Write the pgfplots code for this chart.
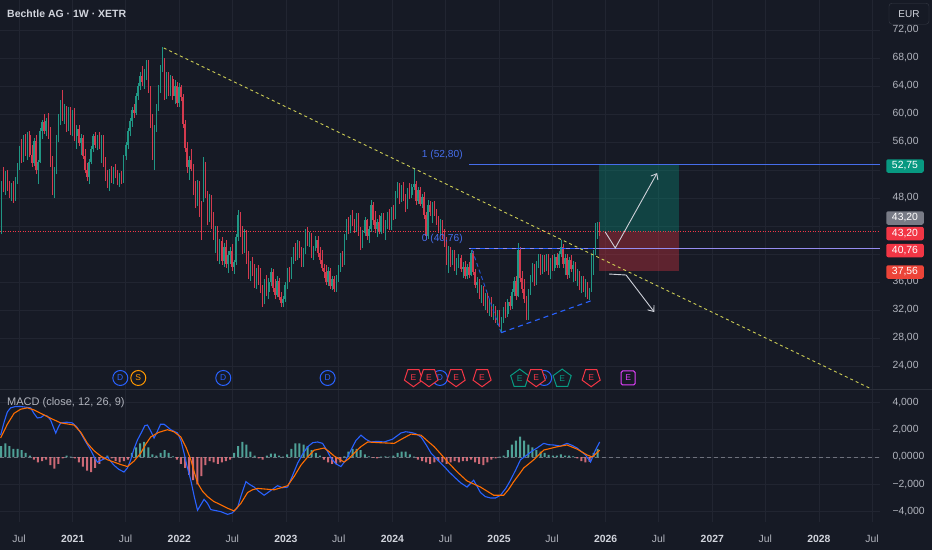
\documentclass[border=0pt]{standalone}
\usepackage{fontspec}
\setmainfont{Liberation Sans}
\usepackage{pgfplots}
\usepackage{pgfplotstable}
\pgfplotsset{compat=1.18}
\usetikzlibrary{shapes.geometric, arrows.meta}

\definecolor{bg}{RGB}{22,26,37}
\definecolor{gridc}{RGB}{33,37,49}
\definecolor{txt}{RGB}{178,181,190}
\definecolor{txtb}{RGB}{209,212,220}
\definecolor{upc}{RGB}{32,150,132}
\definecolor{dnc}{RGB}{212,58,78}
\definecolor{tvgreen}{RGB}{8,153,129}
\definecolor{tvred}{RGB}{242,54,69}
\definecolor{tvblue}{RGB}{41,98,255}
\definecolor{fibblue}{RGB}{70,110,235}
\definecolor{lav}{RGB}{150,140,240}
\definecolor{tvorange}{RGB}{255,109,0}
\definecolor{sorange}{RGB}{255,152,0}
\definecolor{ylw}{RGB}{205,205,85}
\definecolor{arw}{RGB}{205,208,216}
\definecolor{hpos}{RGB}{90,185,172}
\definecolor{hneg}{RGB}{236,120,132}
\definecolor{epurple}{RGB}{224,64,251}
\definecolor{zeroc}{RGB}{110,113,124}
\definecolor{sepc}{RGB}{42,46,57}
\definecolor{eurbd}{RGB}{54,58,69}
\definecolor{lblgray}{RGB}{120,123,134}
\definecolor{lblorange}{RGB}{236,68,56}

\pgfplotstableread{
w o h l c
-35 43.5 50.5 42.8 50.0
-34 50.0 52.4 48.8 49.5
-33 49.5 51.8 48.5 51.2
-32 51.2 52.0 49.0 49.4
-31 49.4 50.5 48.0 48.4
-30 48.4 50.2 47.6 49.8
-29 49.8 50.4 47.3 48.0
-28 48.0 51.0 47.6 50.6
-27 50.6 53.0 50.0 52.5
-26 52.5 55.5 52.0 55.0
-25 55.0 56.4 53.0 53.6
-24 53.6 57.0 53.2 56.5
-23 56.5 57.2 54.0 54.6
-22 54.6 57.5 53.5 57.0
-21 57.0 57.6 53.8 54.2
-20 54.2 55.6 52.4 53.0
-19 53.0 56.6 52.6 56.2
-18 56.2 57.0 51.4 52.0
-17 52.0 53.5 50.0 53.2
-16 53.2 58.0 53.0 57.6
-15 57.6 59.2 56.4 58.8
-14 58.8 60.0 57.2 57.6
-13 57.6 59.5 56.8 59.0
-12 59.0 60.2 56.5 57.0
-11 57.0 58.2 52.5 53.4
-10 53.4 54.0 48.4 49.5
-9 49.5 52.5 48.0 52.0
-8 52.0 57.0 51.5 56.5
-7 56.5 60.0 56.0 59.5
-6 59.5 62.0 58.5 61.4
-5 61.4 63.4 59.0 59.6
-4 59.6 61.5 58.6 60.8
-3 60.8 61.2 57.5 58.0
-2 58.0 61.0 57.6 60.5
-1 60.5 61.0 57.0 57.5
0 57.5 60.6 56.8 60.0
1 60.0 60.8 56.2 56.8
2 56.8 58.5 55.0 57.8
3 57.8 58.4 55.4 55.8
4 55.8 57.2 54.2 56.6
5 56.6 57.0 53.6 54.0
6 54.0 55.0 51.6 52.0
7 52.0 53.0 50.4 51.0
8 51.0 53.6 50.0 53.2
9 53.2 55.4 52.8 55.0
10 55.0 57.2 54.6 56.8
11 56.8 57.4 55.2 55.6
12 55.6 57.0 54.8 56.6
13 56.6 57.4 55.0 55.4
14 55.4 57.0 53.0 56.6
15 56.6 57.0 52.4 53.0
16 53.0 53.8 50.4 51.0
17 51.0 52.0 49.4 49.8
18 49.8 52.2 49.0 51.8
19 51.8 52.6 50.2 50.6
20 50.6 52.5 50.0 52.0
21 52.0 52.8 50.8 51.2
22 51.2 52.0 49.8 50.4
23 50.4 51.6 49.6 51.2
24 51.2 51.8 50.0 50.5
25 50.5 54.2 50.2 54.0
26 54.0 56.0 53.5 55.6
27 55.6 58.0 55.0 57.6
28 57.6 59.4 56.8 59.0
29 59.0 61.0 58.2 60.6
30 60.6 61.4 59.5 60.2
31 60.2 63.0 59.8 62.6
32 62.6 64.5 62.0 64.0
33 64.0 66.0 63.4 65.5
34 65.5 66.8 64.0 64.6
35 64.6 66.4 63.6 66.0
36 66.0 67.7 64.8 66.8
37 66.8 67.7 63.0 63.6
38 63.6 64.0 58.0 58.6
39 58.6 60.0 53.5 54.4
40 54.4 58.5 52.0 58.0
41 58.0 61.5 57.4 61.0
42 61.0 64.2 60.5 63.8
43 63.8 67.0 63.0 66.5
44 66.5 69.6 66.0 67.0
45 67.0 68.0 62.0 62.8
46 62.8 66.0 62.2 65.4
47 65.4 66.0 62.6 63.2
48 63.2 65.6 62.6 65.0
49 65.0 65.4 62.0 62.6
50 62.6 64.8 61.5 64.0
51 64.0 64.6 61.0 61.6
52 61.6 64.5 61.0 63.8
53 63.8 64.2 61.8 62.4
54 62.4 62.8 58.0 58.6
55 58.6 59.2 54.6 55.2
56 55.2 56.0 51.6 52.4
57 52.4 54.0 50.6 53.4
58 53.4 55.0 51.8 52.2
59 52.2 52.8 48.4 49.0
60 49.0 50.4 46.6 47.2
61 47.2 50.6 46.8 50.0
62 50.0 50.4 45.3 45.8
63 45.8 47.6 42.0 42.6
64 47.8 53.9 47.4 52.6
65 52.6 53.2 48.0 48.6
66 48.6 49.0 44.2 45.0
67 45.0 48.6 44.6 48.0
68 48.0 48.4 43.6 44.2
69 44.2 46.0 42.0 42.6
70 42.6 44.0 40.2 43.4
71 43.4 44.0 39.0 39.6
72 39.6 42.2 38.6 41.8
73 41.8 42.4 38.4 39.0
74 39.0 41.6 38.2 41.0
75 41.0 42.0 38.0 38.6
76 38.6 40.4 37.3 39.8
77 39.8 41.0 38.6 40.4
78 40.4 41.4 37.6 38.2
79 38.2 39.2 37.2 38.8
80 38.8 42.8 38.4 42.4
81 42.4 46.3 41.8 45.6
82 45.6 46.0 42.4 43.0
83 43.0 44.0 40.0 40.6
84 40.6 43.6 40.2 43.0
85 43.0 43.4 38.6 39.2
86 39.2 40.4 36.4 37.0
87 37.0 39.0 36.2 38.6
88 38.6 39.6 36.8 37.4
89 37.4 38.6 35.2 35.8
90 35.8 38.0 35.0 37.4
91 37.4 38.4 35.6 36.2
92 36.2 38.0 34.4 34.8
93 34.8 35.6 32.4 33.2
94 33.2 36.4 32.8 35.8
95 35.8 37.0 34.0 34.6
96 34.6 36.6 33.6 36.0
97 36.0 38.0 35.4 37.4
98 37.4 37.8 34.6 35.2
99 35.2 36.4 33.6 34.2
100 34.2 36.8 33.8 36.2
101 36.2 36.6 33.4 33.8
102 33.8 34.6 32.4 33.0
103 33.0 34.0 32.4 33.6
104 33.6 36.0 33.2 35.6
105 35.6 38.0 35.0 37.6
106 37.6 38.2 36.0 36.8
107 36.8 39.6 36.4 39.2
108 39.2 41.0 38.6 40.4
109 40.4 41.6 39.0 39.6
110 39.6 42.0 39.2 41.4
111 41.4 41.8 39.4 40.0
112 40.0 41.0 38.2 38.8
113 38.8 40.8 38.2 40.2
114 40.2 43.6 40.0 43.0
115 43.0 43.9 41.2 41.8
116 41.8 43.2 41.0 42.6
117 42.6 43.0 39.4 40.0
118 40.0 41.2 39.2 40.8
119 40.8 42.6 40.4 42.0
120 42.0 42.6 39.6 40.2
121 40.2 41.0 38.6 39.2
122 39.2 40.6 37.6 38.0
123 38.0 38.6 36.6 37.4
124 37.4 38.4 35.6 36.0
125 36.0 38.2 35.4 37.6
126 37.6 38.0 35.0 35.4
127 35.4 36.8 34.8 36.4
128 36.4 36.8 34.6 35.0
129 35.0 37.0 34.6 36.6
130 36.6 38.4 36.0 38.0
131 38.0 40.2 37.4 39.8
132 39.8 40.4 38.2 38.8
133 38.8 42.8 38.4 42.4
134 42.4 45.0 42.0 44.4
135 44.4 45.3 42.8 43.4
136 43.4 45.6 43.0 45.2
137 45.2 46.3 44.0 44.6
138 44.6 45.0 43.0 43.6
139 43.6 45.8 43.2 45.4
140 45.4 45.8 42.6 43.0
141 43.0 43.8 40.6 41.2
142 41.2 43.4 40.8 43.0
143 43.0 45.3 42.6 44.8
144 44.8 45.0 42.0 42.6
145 42.6 44.0 41.6 43.6
146 43.6 47.7 43.2 47.0
147 47.0 47.4 44.2 44.8
148 44.8 46.2 43.0 43.6
149 43.6 45.0 42.4 44.6
150 44.6 45.6 42.8 43.2
151 43.2 45.8 42.8 45.4
152 45.4 45.8 43.0 43.4
153 43.4 44.8 42.0 44.2
154 44.2 46.0 43.6 45.6
155 45.6 46.4 43.4 44.0
156 44.0 46.7 43.4 46.2
157 46.2 47.0 44.8 45.4
158 45.4 49.0 45.0 48.6
159 48.6 50.3 48.0 49.8
160 49.8 50.2 47.2 47.8
161 47.8 49.8 47.4 49.4
162 49.4 50.3 47.6 48.0
163 48.0 48.6 46.0 46.6
164 46.6 49.4 46.4 49.0
165 49.0 50.2 47.8 48.4
166 48.4 50.0 48.0 49.6
167 49.6 52.3 49.2 50.0
168 50.0 50.4 47.0 47.6
169 47.6 49.6 47.2 49.2
170 49.2 49.6 46.8 47.2
171 47.2 48.6 46.6 48.2
172 48.2 48.8 45.0 45.6
173 45.6 46.0 42.0 42.6
174 42.6 47.7 42.2 47.0
175 47.0 47.6 45.4 46.0
176 46.0 47.4 44.4 47.0
177 47.0 47.6 45.4 45.8
178 45.8 46.4 44.2 44.6
179 44.6 45.4 43.0 43.6
180 43.6 45.0 42.6 44.6
181 44.6 44.8 42.2 42.8
182 42.8 43.6 41.0 41.6
183 41.6 42.4 38.4 39.0
184 39.0 41.2 37.3 40.6
185 40.6 41.0 38.2 38.8
186 38.8 40.6 38.4 40.0
187 40.0 40.6 37.6 38.2
188 38.2 39.4 37.0 38.8
189 38.8 40.0 38.0 39.4
190 39.4 39.8 37.4 37.8
191 37.8 38.8 36.6 38.2
192 38.2 39.0 36.4 36.8
193 36.8 38.6 36.4 38.2
194 38.2 38.8 36.6 37.0
195 37.0 40.6 36.8 40.2
196 40.2 40.4 37.0 37.4
197 37.4 37.8 35.2 35.6
198 35.6 36.7 34.4 36.0
199 36.0 36.4 33.6 34.0
200 34.0 35.6 33.0 35.0
201 35.0 35.4 32.6 33.0
202 33.0 34.4 32.0 34.0
203 34.0 34.4 31.6 32.0
204 32.0 33.6 31.2 33.2
205 33.2 33.8 31.0 31.6
206 31.6 32.8 30.6 32.4
207 32.4 32.6 30.2 30.6
208 30.6 32.0 29.8 31.6
209 31.6 32.0 29.6 30.0
210 30.0 31.0 28.9 30.6
211 30.6 32.4 30.2 32.0
212 32.0 33.2 30.8 31.4
213 31.4 33.6 31.0 33.2
214 33.2 34.0 32.0 32.6
215 32.6 35.0 32.2 34.6
216 34.6 36.7 34.0 36.2
217 36.2 36.8 33.4 34.0
218 34.0 41.6 33.8 40.6
219 40.6 41.0 36.0 36.6
220 36.6 37.6 34.4 35.0
221 35.0 36.4 33.0 33.6
222 33.6 34.0 30.6 33.4
223 33.4 35.0 30.6 34.6
224 34.6 37.0 34.2 36.6
225 36.6 38.7 36.0 38.2
226 38.2 38.6 35.4 36.0
227 36.0 39.0 35.6 38.6
228 38.6 40.0 38.0 39.4
229 39.4 40.0 37.0 37.6
230 37.6 39.8 37.2 39.4
231 39.4 39.8 37.4 38.0
232 38.0 40.0 37.6 39.6
233 39.6 40.0 37.0 37.4
234 37.4 39.4 36.4 39.0
235 39.0 39.8 37.6 38.0
236 38.0 40.0 37.6 39.6
237 39.6 40.2 38.0 38.4
238 38.4 40.4 38.0 40.0
239 40.0 42.0 39.6 41.0
240 41.0 41.4 38.0 38.6
241 38.6 40.0 37.0 39.4
242 39.4 40.0 36.4 37.0
243 37.0 39.6 36.6 39.2
244 39.2 39.8 37.4 37.8
245 37.8 39.0 36.0 38.4
246 38.4 38.8 36.2 36.6
247 36.6 37.8 35.4 37.2
248 37.2 37.6 34.8 35.2
249 35.2 36.8 34.4 36.4
250 36.4 36.8 34.6 35.0
251 35.0 36.4 33.8 35.8
252 35.8 36.0 33.6 34.0
253 34.0 35.2 33.4 34.8
254 34.8 40.0 34.6 39.6
255 39.6 40.6 37.0 40.2
256 40.2 44.4 39.8 43.8
257 43.8 44.6 42.2 44.4
258 44.4 44.6 42.6 43.2
}\pricedata

\pgfplotstableread{
w h
-35 0.8
-33 1.0
-31 0.8
-29 0.6
-27 0.6
-25 0.5
-23 0.3
-21 0.1
-19 -0.2
-17 -0.4
-15 -0.3
-13 -0.2
-11 -0.6
-9 -0.85
-7 -0.5
-5 -0.1
-3 0.1
-1 0.02
1 -0.1
3 -0.4
5 -0.7
7 -1.0
9 -1.1
11 -0.8
13 -0.5
15 -0.2
17 0.1
19 -0.1
21 -0.3
23 -0.4
25 -0.3
27 -0.2
29 0.3
31 0.7
33 1.0
35 1.1
37 0.7
39 0.2
41 0.1
43 0.3
45 0.5
47 0.3
49 0.05
51 -0.2
53 -0.5
55 -0.8
57 -1.3
59 -1.7
61 -2.0
63 -1.4
65 -0.6
67 -0.3
69 -0.4
71 -0.5
73 -0.4
75 -0.3
77 -0.2
79 0.3
81 0.8
83 1.1
85 0.9
87 0.4
89 0.1
91 -0.1
93 -0.2
95 0.1
97 0.25
99 0.25
101 0.1
103 0.03
105 0.2
107 0.6
109 1.0
111 1.0
113 0.9
115 0.8
117 0.5
119 0.3
121 0.1
123 -0.2
125 -0.4
127 -0.5
129 -0.5
131 -0.4
133 0.05
135 0.4
137 0.6
139 0.6
141 0.5
143 0.2
145 0.05
147 -0.05
149 -0.1
151 0.03
153 0.05
155 0.03
157 0.1
159 0.3
161 0.4
163 0.4
165 0.2
167 0.03
169 -0.2
171 -0.3
173 -0.4
175 -0.5
177 -0.4
179 -0.3
181 -0.4
183 -0.5
185 -0.4
187 -0.3
189 -0.4
191 -0.3
193 -0.3
195 -0.2
197 -0.4
199 -0.5
201 -0.6
203 -0.4
205 -0.2
207 -0.1
209 0.03
211 0.1
213 0.5
215 0.9
217 1.2
219 1.5
221 1.2
223 0.9
225 0.7
227 0.5
229 0.4
231 0.3
233 0.15
235 0.1
237 0.1
239 0.2
241 0.1
243 0.1
245 0.05
247 -0.1
249 -0.3
251 -0.4
253 -0.35
255 0.3
257 0.6
}\histdata

\pgfplotsset{
  tvtick/.style={font=\fontsize{10.4}{12}\selectfont, text=txt},
}

\begin{document}
\begin{tikzpicture}[x=1pt,y=1pt]
\fill[bg] (0,0) rectangle (932,-550);

% ---------------- price panel ----------------
\begin{axis}[
  at={(0pt,0pt)}, anchor=north west, scale only axis,
  width=880pt, height=389pt,
  xmin=-35.6, xmax=395.2, ymin=20.714, ymax=76.286,
  axis line style={draw=none}, major tick length=0pt,
  xtick={-26.3,0,25.9,52.18,78.1,104.36,130.2,156.5,182.5,208.7,234.6,260.9,286.8,313.1,339,365.3,391.3},
  xticklabels={},
  ytick={24,28,...,72},
  yticklabels={24{,}00,28{,}00,32{,}00,36{,}00,{},{},48{,}00,{},56{,}00,60{,}00,64{,}00,68{,}00,72{,}00},
  yticklabel pos=right,
  grid=major, grid style={gridc, line width=0.7pt},
  yticklabel style={tvtick, anchor=west, xshift=9pt},
]
% long position boxes
\fill[tvgreen, opacity=0.33] (axis cs:257.7,43.2) rectangle (axis cs:296.9,52.75);
\fill[tvred, opacity=0.33] (axis cs:257.7,37.56) rectangle (axis cs:296.9,43.2);

% fib lines
\draw[fibblue, line width=0.9pt] (axis cs:194,52.8) -- (axis cs:395.2,52.8);
\draw[lav, line width=0.9pt] (axis cs:194,40.76) -- (axis cs:395.2,40.76);
% current price line
\draw[tvred, line width=0.6pt, dash pattern=on 1pt off 1.5pt] (axis cs:-35.6,43.2) -- (axis cs:395.2,43.2);

% candles: wicks (low to high) and bodies (open to close) as vertical quiver segments
\addplot[color=upc, mark=none, forget plot,
  quiver={u=0, v=\thisrow{h}-\thisrow{l}, every arrow/.append style={-, draw=upc, line width=0.65pt}},
  restrict expr to domain={\thisrow{c}-\thisrow{o}}{0:100}]
  table[x=w, y=l] {\pricedata};
\addplot[color=upc, mark=none, forget plot,
  quiver={u=0, v=\thisrow{c}-\thisrow{o}, every arrow/.append style={-, draw=upc, line width=1.4pt}},
  restrict expr to domain={\thisrow{c}-\thisrow{o}}{0:100}]
  table[x=w, y=o] {\pricedata};
\addplot[color=dnc, mark=none, forget plot,
  quiver={u=0, v=\thisrow{h}-\thisrow{l}, every arrow/.append style={-, draw=dnc, line width=0.65pt}},
  restrict expr to domain={\thisrow{c}-\thisrow{o}}{-100:-0.001}]
  table[x=w, y=l] {\pricedata};
\addplot[color=dnc, mark=none, forget plot,
  quiver={u=0, v=\thisrow{o}-\thisrow{c}, every arrow/.append style={-, draw=dnc, line width=1.4pt}},
  restrict expr to domain={\thisrow{c}-\thisrow{o}}{-100:-0.001}]
  table[x=w, y=c] {\pricedata};

% pattern lines
\draw[tvblue, line width=1.1pt, dash pattern=on 5pt off 4pt] (axis cs:195,40.76) -- (axis cs:256,40.76);
\draw[tvblue!80!bg, line width=0.9pt, dash pattern=on 4pt off 3pt] (axis cs:195.5,40.6) -- (axis cs:209.7,28.8);
\draw[tvblue, line width=1.1pt, dash pattern=on 5pt off 4pt] (axis cs:209.7,28.76) -- (axis cs:254.8,33.43);

% trendline
\draw[ylw, line width=0.9pt, dash pattern=on 3pt off 3pt] (axis cs:44.6,69.43) -- (axis cs:390,20.86);

% fib labels
\node[anchor=south east, font=\fontsize{10.2}{12}\selectfont, text=fibblue, inner sep=1pt] at (axis cs:191.5,53.3) {1 (52,80)};
\node[anchor=south east, font=\fontsize{10.2}{12}\selectfont, text=fibblue, inner sep=1pt] at (axis cs:191.5,41.26) {0 (40,76)};

% arrows
\draw[arw, line width=0.9pt, -{Straight Barb[length=5pt,width=8pt]}] (axis cs:260.7,43.14) -- (axis cs:265.6,40.86) -- (axis cs:286.1,51.57);
\draw[arw, line width=0.9pt, -{Straight Barb[length=5pt,width=8pt]}] (axis cs:262.6,37.14) -- (axis cs:270.9,37.0) -- (axis cs:284.7,31.71);

% event markers
\begin{scope}[every node/.style={inner sep=0pt, font=\fontsize{8.5}{9}\selectfont, line width=1pt, fill=bg}]
\node[circle, draw=tvblue, text=tvblue, minimum size=15pt] at (axis cs:23.3,22.29) {D};
\node[circle, draw=sorange, text=sorange, minimum size=15pt] at (axis cs:32.1,22.29) {S};
\node[circle, draw=tvblue, text=tvblue, minimum size=15pt] at (axis cs:73.7,22.29) {D};
\node[circle, draw=tvblue, text=tvblue, minimum size=15pt] at (axis cs:124.8,22.29) {D};
\node[circle, draw=tvblue, text=tvblue, minimum size=15pt] at (axis cs:179.8,22.29) {D};
\node[circle, draw=tvblue, text=tvblue, minimum size=15pt] at (axis cs:230.8,22.29) {D};
\node[regular polygon, regular polygon sides=5, shape border rotate=180, draw=tvred, text=tvred, minimum size=19pt] at (axis cs:166.8,22.4) {E};
\node[regular polygon, regular polygon sides=5, shape border rotate=180, draw=tvred, text=tvred, minimum size=19pt] at (axis cs:174.4,22.4) {E};
\node[regular polygon, regular polygon sides=5, shape border rotate=180, draw=tvred, text=tvred, minimum size=19pt] at (axis cs:187.7,22.4) {E};
\node[regular polygon, regular polygon sides=5, shape border rotate=180, draw=tvred, text=tvred, minimum size=19pt] at (axis cs:200.4,22.4) {E};
\node[regular polygon, regular polygon sides=5, draw=tvgreen, text=tvgreen, minimum size=19pt] at (axis cs:218.8,22.2) {E};
\node[regular polygon, regular polygon sides=5, shape border rotate=180, draw=tvred, text=tvred, minimum size=19pt] at (axis cs:226.9,22.4) {E};
\node[regular polygon, regular polygon sides=5, draw=tvgreen, text=tvgreen, minimum size=19pt] at (axis cs:239.6,22.2) {E};
\node[regular polygon, regular polygon sides=5, shape border rotate=180, draw=tvred, text=tvred, minimum size=19pt] at (axis cs:253.8,22.4) {E};
\node[rectangle, rounded corners=1.5pt, draw=epurple, text=epurple, minimum size=14pt] at (axis cs:271.9,22.29) {E};
\end{scope}
\end{axis}

% ---------------- MACD panel ----------------
\begin{axis}[
  at={(0pt,-389pt)}, anchor=north west, scale only axis,
  width=880pt, height=133pt,
  xmin=-35.6, xmax=395.2, ymin=-4.76, ymax=4.98,
  axis line style={draw=none}, major tick length=0pt,
  xtick={-26.3,0,25.9,52.18,78.1,104.36,130.2,156.5,182.5,208.7,234.6,260.9,286.8,313.1,339,365.3,391.3},
  xticklabels={Jul,{\bfseries\color{txtb}2021},Jul,{\bfseries\color{txtb}2022},Jul,{\bfseries\color{txtb}2023},Jul,{\bfseries\color{txtb}2024},Jul,{\bfseries\color{txtb}2025},Jul,{\bfseries\color{txtb}2026},Jul,{\bfseries\color{txtb}2027},Jul,{\bfseries\color{txtb}2028},Jul},
  xticklabel style={tvtick, anchor=center, yshift=-17pt},
  ytick={-4,-2,0,2,4},
  yticklabels={{−4,000},{−2,000},{0,0000},{2,000},{4,000}},
  yticklabel pos=right,
  yticklabel style={tvtick, anchor=west, xshift=9pt},
  grid=major, grid style={gridc, line width=0.7pt},
]
\draw[zeroc, line width=0.6pt, dash pattern=on 4pt off 3pt] (axis cs:-35.6,0) -- (axis cs:395.2,0);
\addplot[ybar, bar width=2pt, bar shift=0pt, fill=hpos, draw=none, fill opacity=0.85,
  restrict expr to domain={\thisrow{h}}{0:10}] table[x=w, y=h] {\histdata};
\addplot[ybar, bar width=2pt, bar shift=0pt, fill=hneg, draw=none, fill opacity=0.85,
  restrict expr to domain={\thisrow{h}}{-10:-0.0001}] table[x=w, y=h] {\histdata};
\addplot[tvblue, line width=1.1pt, mark=none] coordinates {
(-35.3,1.6) (-33.5,2.6) (-32,3.3) (-30.4,3.6) (-28,3.7) (-25.5,3.7) (-23,3.65) (-20.6,3.6) (-19,3.2) (-17.3,2.86) (-15.5,2.9) (-14,3.07) (-12.5,3.0) (-10.8,2.7) (-9.5,2.2) (-8.3,1.75) (-7,2.2) (-5.9,2.5) (-3,2.55) (-0.2,2.5) (2,2.2) (3.9,1.76) (6,1.2) (8.8,0.51) (10.5,0.0) (12.1,-0.37) (14.5,-0.2) (17,0) (18.5,-0.3) (20.2,-0.6) (22.5,-0.9) (25.1,-1.1) (26.8,-0.8) (28.4,-0.2) (30,0.6) (31.7,1.25) (34,1.9) (35.3,2.3) (36.6,2.34) (38.2,1.9) (39.8,1.39) (41.5,1.9) (43,2.4) (44.7,2.4) (46.4,2.2) (48,2.0) (51.3,1.76) (53,1.2) (54.5,0.29) (56,-0.7) (57.8,-1.7) (59.5,-2.9) (61.1,-3.9) (62.7,-3.5) (64.3,-3.1) (66,-3.4) (67.6,-3.85) (69.2,-3.9) (72.5,-4.0) (75.8,-4.2) (78,-4.1) (80.7,-3.7) (82.5,-2.8) (84.8,-1.8) (86.5,-2.0) (88.8,-2.2) (91,-2.5) (93.7,-2.8) (96.5,-2.5) (100.3,-2.1) (102.7,-2.25) (105.2,-2.2) (107.5,-1.4) (110.1,-0.45) (112.5,0.2) (115,0.75) (117.5,1.05) (119.9,1.1) (122.3,1.0) (124.4,0.5) (126.4,-0.07) (128.8,-0.5) (131.3,-0.7) (133.8,-0.2) (136.2,0.5) (138.6,1.2) (141.1,1.6) (143.5,1.3) (146,1.1) (149,1.15) (152.5,1.1) (156.5,1.3) (160.7,1.76) (163,1.85) (165.6,1.8) (168,1.7) (170.5,1.47) (173,0.9) (175.4,0.29) (178.5,-0.2) (181.9,-0.7) (184.3,-1.1) (186.8,-1.46) (190,-1.9) (193,-2.2) (196.3,-1.7) (199.6,-2.6) (202,-2.9) (204.5,-3.0) (207,-3.0) (209.4,-2.8) (212,-2.3) (214.3,-1.7) (217,-0.9) (219.2,-0.2) (222.4,0.15) (225,0.45) (227.3,0.66) (230.6,1.0) (233,0.9) (235.5,0.88) (238.8,0.8) (242,1.0) (244.5,0.85) (246.9,0.66) (249,0.4) (251,0.15) (253.5,-0.37) (255.9,0.51) (258,1.1)
};
\addplot[tvorange, line width=1.1pt, mark=none] coordinates {
(-35.3,1.39) (-32,2.4) (-28.7,3.2) (-25.5,3.5) (-22.2,3.6) (-19,3.45) (-15.7,3.2) (-11,2.85) (-5.9,2.5) (0.7,2.34) (4,1.8) (7.2,1.0) (10.5,0.45) (13.7,0.07) (17,-0.2) (20.2,-0.37) (23.5,-0.55) (26.8,-0.7) (30,-0.3) (33.3,0.29) (35.8,0.95) (38.2,1.47) (42,1.8) (46.4,2.0) (49.5,1.85) (52.9,1.47) (55.5,0.7) (57.8,-0.2) (59.5,-1.1) (61.1,-1.9) (63.5,-2.5) (66,-2.9) (69,-3.25) (72.5,-3.5) (75.8,-3.75) (79,-3.95) (82.3,-3.4) (85.6,-2.6) (88,-2.4) (90.5,-2.3) (94.5,-2.35) (98.6,-2.4) (102,-2.25) (105.2,-2.1) (108.5,-1.4) (111.7,-0.6) (115,0.0) (118.2,0.5) (123.1,0.66) (125.5,0.4) (128,0.07) (132.9,-0.37) (135.3,-0.1) (137.8,0.29) (141,0.75) (144.4,1.1) (150,1.05) (157.4,1.0) (161.5,1.35) (165.6,1.68) (170.5,1.6) (173.5,1.2) (177,0.75) (180.3,0.2) (183.6,-0.37) (188.3,-1.1) (193,-1.75) (199.6,-2.2) (206.1,-2.8) (211,-2.8) (213.5,-2.35) (215.9,-1.8) (218.4,-1.3) (220.8,-0.8) (225.7,-0.2) (230.6,0.51) (237.1,0.75) (242,0.88) (246.9,0.58) (251.8,0.15) (254.3,0.0) (258,0.5)
};
\end{axis}

% panel separator
\draw[sepc, line width=0.8pt] (0,-389) -- (932,-389);

% titles
\node[anchor=west, font=\fontsize{10.5}{12}\selectfont\bfseries, text=txtb, inner sep=0pt] at (7,-14) {Bechtle AG · 1W · XETR};
\node[anchor=west, font=\fontsize{11}{13}\selectfont, text=txt, inner sep=0pt] at (7,-403) {MACD (close, 12, 26, 9)};

% EUR button
\node[draw=eurbd, fill=bg, rounded corners=3pt, minimum width=40pt, minimum height=21pt, inner sep=0pt, text=txtb, font=\fontsize{10}{12}\selectfont] at (909,-13.7) {EUR};

% price labels
\begin{scope}[every node/.style={rounded corners=2pt, minimum width=37.5pt, minimum height=13.5pt, inner sep=0pt, text=white, font=\fontsize{10.4}{12}\selectfont}]
\node[fill=tvgreen] at (905,-166) {52,75};
\node[fill=lblgray] at (905,-218) {43,20};
\node[fill=tvred] at (905,-233.5) {43,20};
\node[fill=tvred] at (905,-250.5) {40,76};
\node[fill=lblorange] at (905,-272) {37,56};
\end{scope}

\pgfresetboundingbox
\path[use as bounding box] (0,0) rectangle (932,-550);
\end{tikzpicture}
\end{document}
